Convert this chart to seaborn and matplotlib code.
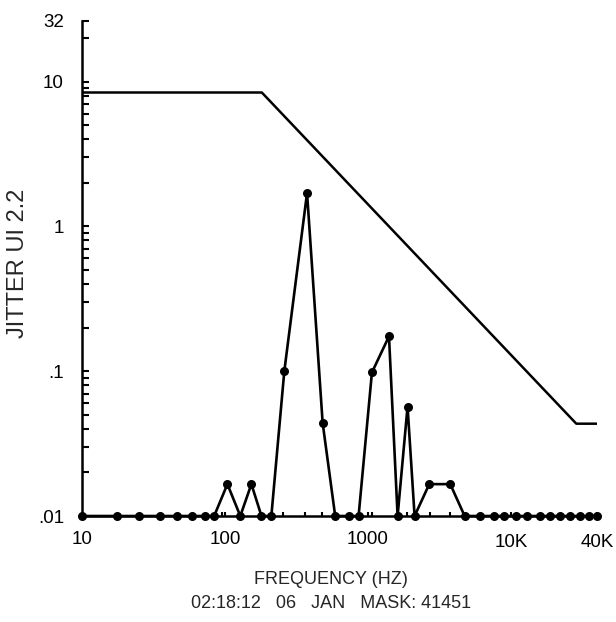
import matplotlib
matplotlib.use("Agg")
import matplotlib.pyplot as plt
import matplotlib.ticker as mticker
import numpy as np
import pandas as pd
import seaborn as sns

# measured jitter spectrum (Hz, UI)
freq = [10, 17.6, 25, 35, 46, 59, 72, 84, 104, 128, 153, 180, 211, 260, 375,
        482, 590, 731, 860, 1066, 1403, 1612, 1892, 2119, 2684, 3763, 4745,
        6109, 7558, 8878, 10840, 12940, 15880, 18760, 22030, 26060, 30410,
        34910, 40000]
jitter = [0.01, 0.01, 0.01, 0.01, 0.01, 0.01, 0.01, 0.01, 0.0166, 0.01, 0.0166,
          0.01, 0.01, 0.1, 1.7, 0.044, 0.01, 0.01, 0.01, 0.098, 0.174, 0.01,
          0.057, 0.01, 0.0166, 0.0166, 0.01, 0.01, 0.01, 0.01, 0.01, 0.01,
          0.01, 0.01, 0.01, 0.01, 0.01, 0.01, 0.01]

# tolerance mask
mask_freq = [10, 181, 28650, 40000]
mask_ui = [8.4, 8.4, 0.0434, 0.0434]

x_major = [10, 100, 1000]
x_major_labels = ["10", "100", "1000"]
x_minor = [95, 256, 364, 477, 1066, 1876, 2720, 3756, 10000, 40000]
x_minor_labels = ["", "", "", "", "", "", "", "", "10K", "40K"]
y_top = 26.3
y_major = [0.01, 0.1, 1, 10, y_top]
y_major_labels = [".01", ".1", "1", "10", "32"]

sns.set_theme(style="ticks")
plt.rcParams["font.family"] = ["Liberation Sans", "DejaVu Sans"]

spec = pd.DataFrame({"freq": freq, "jitter": jitter})
mask = pd.DataFrame({"freq": mask_freq, "ui": mask_ui})

fig = plt.figure(figsize=(6.16, 6.22), dpi=100)
ax = fig.add_axes([0.1331, 0.1704, 0.8361, 0.7963])

sns.lineplot(data=mask, x="freq", y="ui", ax=ax, color="black", lw=1.8,
             sort=False, estimator=None)
sns.lineplot(data=spec, x="freq", y="jitter", ax=ax, color="black", lw=1.9,
             marker="o", markersize=6.5, markeredgewidth=0, sort=False,
             estimator=None, clip_on=False, zorder=5)

ax.set_xscale("log")
ax.set_yscale("log")
ax.set_xlim(10, 40000)
ax.set_ylim(0.01, y_top)

ax.set_xticks(x_major, labels=x_major_labels)
ax.set_xticks(x_minor, labels=x_minor_labels, minor=True)
ax.set_yticks(y_major, labels=y_major_labels)
ax.yaxis.set_minor_locator(mticker.LogLocator(base=10, subs=np.arange(2, 10)))
ax.yaxis.set_minor_formatter(mticker.NullFormatter())

ax.tick_params(axis="x", which="both", direction="in", length=3, width=1.5,
               labelsize=13.5, colors="black")
ax.tick_params(axis="x", which="major", pad=11)
ax.tick_params(axis="x", which="minor", pad=13)
ax.tick_params(axis="y", which="both", direction="in", length=5, width=1.5,
               labelsize=13.5, pad=13, colors="black")

for side in ["top", "right"]:
    ax.spines[side].set_visible(False)
for side in ["left", "bottom"]:
    ax.spines[side].set_linewidth(1.8)
    ax.spines[side].set_color("black")

ax.set_xlabel("")
ax.set_ylabel("JITTER UI 2.2", fontsize=17)
ax.yaxis.set_label_coords(-0.102, 0.51)

fig.text(0.537, 0.068, "FREQUENCY (HZ)", ha="center", va="center", fontsize=13)
fig.text(0.537, 0.030, "02:18:12   06   JAN   MASK: 41451", ha="center",
         va="center", fontsize=13)

fig.savefig("out.png", dpi=100)
